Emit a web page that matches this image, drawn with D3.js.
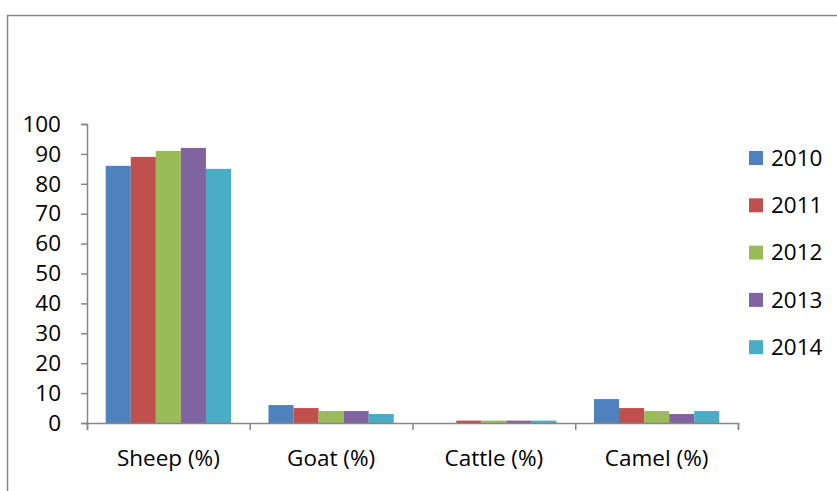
<!DOCTYPE html>
<html>
<head>
<meta charset="utf-8">
<script src="https://cdn.jsdelivr.net/npm/d3@7"></script>
<style>
  html, body { margin: 0; padding: 0; background: #fff; }
  svg { display: block; }
  svg text { font-family: "Open Sans", "Lato", sans-serif; }
</style>
</head>
<body>
<svg id="chart" width="837" height="491"></svg>
<script>
// Livestock composition by year
const categories = ["Sheep (%)", "Goat (%)", "Cattle (%)", "Camel (%)"];
const years = ["2010", "2011", "2012", "2013", "2014"];
const values2010 = [86, 6, 0, 8];
const values2011 = [89, 5, 0.8, 5];
const values2012 = [91, 4, 0.8, 4];
const values2013 = [92, 4, 0.8, 3];
const values2014 = [85, 3, 0.8, 4];
const yTicks = [0, 10, 20, 30, 40, 50, 60, 70, 80, 90, 100];
const colors = ["#4F81BD", "#C0504D", "#9BBB59", "#8064A2", "#4BACC6"];

const seriesValues = [values2010, values2011, values2012, values2013, values2014];
const fontSize = 22.5;

const svg = d3.select("#chart");

// outer chart frame
svg.append("rect")
  .attr("x", 7.5).attr("y", 15.5)
  .attr("width", 900).attr("height", 600)
  .attr("fill", "none").attr("stroke", "#868686").attr("stroke-width", 1.5);

const plot = { left: 87, right: 738, top: 124, bottom: 423 };

const x0 = d3.scaleBand().domain(categories).range([plot.left, plot.right]).paddingInner(0.23).paddingOuter(0.115);
const x1 = d3.scaleBand().domain(years).range([0, x0.bandwidth()]);
const y = d3.scaleLinear().domain([0, 100]).range([plot.bottom, plot.top]);

// bars
const groups = svg.append("g").selectAll("g")
  .data(categories)
  .join("g")
  .attr("transform", d => `translate(${x0(d)},0)`);

groups.selectAll("rect")
  .data((c, ci) => years.map((yr, si) => ({ yr, si, v: seriesValues[si][ci] })))
  .join("rect")
  .attr("x", d => x1(d.yr))
  .attr("width", x1.bandwidth())
  .attr("y", d => y(d.v))
  .attr("height", d => y(0) - y(d.v))
  .attr("fill", d => colors[d.si]);

// y axis
const yAxis = svg.append("g")
  .attr("transform", `translate(${plot.left},0)`)
  .call(d3.axisLeft(y).tickValues(yTicks).tickSize(6).tickPadding(20));
yAxis.attr("font-family", null).attr("font-size", null);
yAxis.select(".domain").attr("stroke", "#868686").attr("stroke-width", 1.5);
yAxis.selectAll(".tick line").attr("stroke", "#868686").attr("stroke-width", 1.5);
yAxis.selectAll("text").style("font-size", fontSize + "px").attr("fill", "#000");

// x axis with ticks at category boundaries
const xAxisScale = d3.scalePoint().domain(d3.range(categories.length + 1)).range([plot.left, plot.right]);
const xAxis = svg.append("g")
  .attr("transform", `translate(0,${plot.bottom})`)
  .call(d3.axisBottom(xAxisScale).tickSize(7).tickFormat(""));
xAxis.select(".domain").attr("stroke", "#868686").attr("stroke-width", 1.5);
xAxis.selectAll(".tick line").attr("stroke", "#868686").attr("stroke-width", 1.5);

svg.append("g").selectAll("text")
  .data(categories)
  .join("text")
  .attr("x", d => x0(d) + x0.bandwidth() / 2)
  .attr("y", 466)
  .attr("text-anchor", "middle")
  .style("font-size", fontSize + "px")
  .attr("fill", "#000")
  .text(d => d);

// legend
const legend = svg.append("g").selectAll("g")
  .data(years)
  .join("g")
  .attr("transform", (d, i) => `translate(749,${158 + i * 47.3})`);
legend.append("rect")
  .attr("x", 0).attr("y", -7).attr("width", 14).attr("height", 14)
  .attr("fill", (d, i) => colors[i]);
legend.append("text")
  .attr("x", 22).attr("y", 0).attr("dy", "0.35em")
  .style("font-size", fontSize + "px").attr("fill", "#000")
  .text(d => d);
</script>
</body>
</html>
